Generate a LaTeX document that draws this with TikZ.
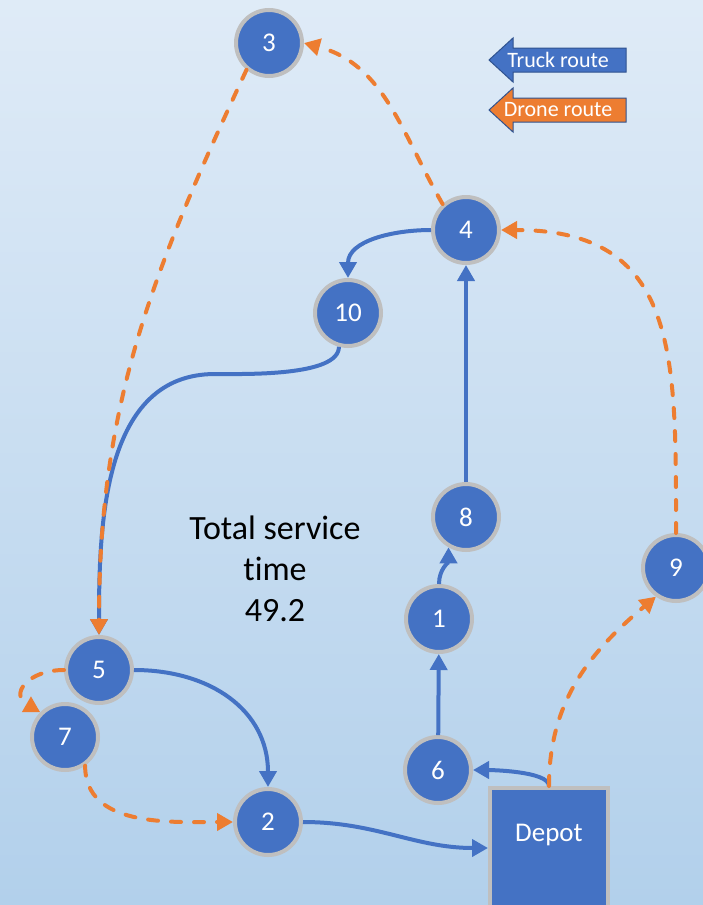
\documentclass[tikz,border=0pt]{standalone}
\usepackage{fontspec}
\setmainfont{Carlito}[Ligatures={NoCommon,NoContextual}]
\usepackage{tikz}
\usetikzlibrary{arrows.meta}
\definecolor{routeBlue}  {RGB}{68,  114, 196}
\definecolor{droneOrange}{RGB}{237, 125,  49}
\definecolor{ringGray}   {RGB}{191, 191, 191}
\definecolor{edgeBlue}   {RGB}{47,   82, 143}
\definecolor{bgTop}      {RGB}{223, 235, 247}
\definecolor{bgBottom}   {RGB}{178, 208, 235}

\begin{document}
\begin{tikzpicture}[x=1pt,y=1pt,
    cust/.style={circle,fill=routeBlue,draw=ringGray,line width=4pt,
                 minimum size=66pt,inner sep=0pt,text=white,
                 font=\fontsize{27}{32}\selectfont},
    truck/.style={routeBlue,line width=4pt,
                  -{Triangle[length=16pt,width=17pt]}},
    drone/.style={droneOrange,line width=4pt,line cap=round,
                  dash pattern=on 10pt off 13pt,
                  -{Triangle[length=16pt,width=17pt]}}]

  \clip (0,0) rectangle (703,-905);
  \shade[top color=bgTop,bottom color=bgBottom] (0,0) rectangle (703,-905);

  % legend
  \foreach \y/\txt/\cor/\nm in {60/Truck route/routeBlue/legTruck,
                                 110/Drone route/droneOrange/legDrone}{
    \draw[fill=\cor,draw=edgeBlue,line width=1pt]
      (489,-\y) -- (513,-\y+22) -- (513,-\y+12) -- (626,-\y+12)
      -- (626,-\y-12) -- (513,-\y-12) -- (513,-\y-22) -- cycle;
    \node[text=white,font=\fontsize{22}{26}\selectfont] (\nm) at (558,-\y) {\txt};
  }

  % customers and depot
  \foreach \id/\x/\y in {3/269/43, 4/466/230, 10/348/313, 8/466/517,
                         1/439/619, 6/438/770, 9/676/568, 5/99/670,
                         7/65/737, 2/268/822}{
    \node[cust] (n\id) at (\x,-\y) {\id};
  }
  \node[rectangle,fill=routeBlue,draw=ringGray,line width=4pt,
        minimum width=118pt,minimum height=120pt,text=white,
        text height=18pt,text depth=32pt,
        font=\fontsize{27}{32}\selectfont] (depot) at (549,-848) {Depot};

  \node[align=center,font=\fontsize{34}{41}\selectfont] (total) at (275,-569)
    {Total service\\time\\49.2};

  % truck route
  \coordinate (bend10) at (215,-374);
  \draw[truck] (depot.north) to[out=90,in=0,looseness=0.5] (n6.east);
  \draw[truck] (n6) -- (n1);
  \draw[truck] (n1) to[out=90,in=-90] (n8.240);
  \draw[truck] (n8) -- (n4);
  \draw[truck] (n4) to[out=180,in=90] (n10);
  \draw[truck] (n10.255) to[out=-90,in=0,looseness=0.6] (bend10)
               to[out=180,in=90] (n5);
  \draw[truck] (n5) to[out=0,in=90,looseness=1.1] (n2);
  \draw[truck] (n2) to[out=0,in=180] (depot);

  % drone route
  \draw[drone] (n4.132) to[out=120,in=-15] (n3.east);
  \draw[drone] (n3.230) to[out=-115,in=90] (n5);
  \draw[drone] (n9) to[out=90,in=0,looseness=1.3] (n4);
  \draw[drone] (depot.north) to[out=90,in=-140] (n9.235);
  \draw[drone] (n5) to[out=180,in=150,looseness=1.9] (n7.135);
  \draw[drone] (n7.-55) to[out=-90,in=180] (n2);

\end{tikzpicture}
\end{document}
